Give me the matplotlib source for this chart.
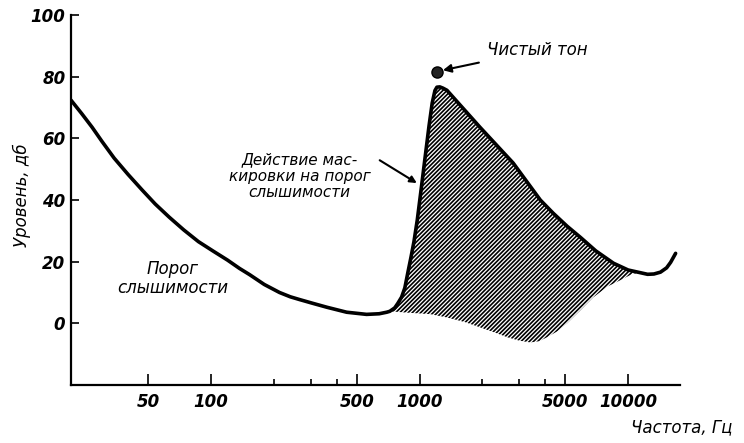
import numpy as np
import matplotlib
matplotlib.use("Agg")
import matplotlib.pyplot as plt

# порог слышимости в тишине
freq_quiet = [21.3, 24, 26.9, 30, 34.3, 40, 46.8, 54, 63.1, 74, 87, 102, 120, 137, 153,
              180, 213, 240, 266, 307, 360, 447, 557, 640, 696]
db_quiet = [72.4, 68.0, 63.6, 59.0, 53.6, 48.3, 43.2, 38.7, 34.4, 30.3, 26.5, 23.5, 20.5,
            17.8, 15.8, 12.6, 10.0, 8.6, 7.7, 6.5, 5.2, 3.6, 2.9, 3.1, 3.6]

# порог при маскировке (верхняя граница)
freq_masked = [720, 760, 787, 820, 850, 879, 910, 940, 975, 1020, 1062, 1110, 1150, 1185,
               1211, 1250, 1294, 1353, 1949, 2811, 3793, 4376, 5100, 5905, 7000, 8510,
               10000, 12400, 13300, 14300, 15300, 16000, 16900]
db_masked = [3.9, 5.0, 6.5, 8.5, 11.5, 16.5, 21.5, 26.5, 33.5, 44.0, 53.6, 64.0, 71.5,
             75.5, 76.6, 76.7, 76.3, 75.6, 63.6, 52.0, 40.0, 35.7, 31.5, 27.9, 23.5, 19.5,
             17.3, 15.9, 16.0, 16.6, 18.0, 19.8, 22.7]

# продолжение порога без маскировки (нижняя граница штриховки)
freq_lower = [720, 898, 1122, 1353, 1650, 1949, 2300, 2630, 3000, 3390, 3750, 4090, 4600,
              5100, 5900, 6800, 8000, 9190, 10600, 12400]
db_lower = [3.9, 3.4, 3.0, 1.9, 0.4, -1.3, -3.0, -4.5, -5.6, -6.2, -5.8, -4.5, -2.5,
            0.0, 4.2, 8.4, 12.0, 14.0, 16.2, 15.9]

tone_freq, tone_db = 1211, 81.5

xticks = [50, 100, 500, 1000, 5000, 10000]
xminor = [200, 300, 400, 2000, 3000, 4000]
yticks = [0, 20, 40, 60, 80, 100]

plt.rcParams['font.family'] = ['DejaVu Sans']
plt.rcParams['hatch.linewidth'] = 1.2

fig = plt.figure(figsize=(7.44, 4.43), dpi=100)
ax = fig.add_axes([0.0954, 0.131, 0.819, 0.835])

fm = np.array(freq_masked)
dm = np.array(db_masked)
keep = fm <= freq_lower[-1]
poly_x = np.concatenate([fm[keep], freq_lower[::-1]])
poly_y = np.concatenate([dm[keep], db_lower[::-1]])
ax.fill(poly_x, poly_y, facecolor='white', edgecolor='black', linewidth=0, hatch='////////')

ax.plot(freq_quiet + freq_masked, db_quiet + db_masked, color='black', lw=2.6,
        solid_joinstyle='round', solid_capstyle='round')
ax.plot([tone_freq], [tone_db], 'o', color='#222222', markersize=8, mec='black')

ax.set_xscale('log')
ax.set_xlim(21.3, 17800)
ax.set_ylim(-20, 100)
ax.spines['top'].set_visible(False)
ax.spines['right'].set_visible(False)
ax.spines['left'].set_linewidth(1.6)
ax.spines['bottom'].set_linewidth(1.6)

ax.set_xticks(xticks)
ax.set_xticklabels([str(t) for t in xticks])
ax.set_xticks(xminor, minor=True)
ax.xaxis.set_minor_formatter(matplotlib.ticker.NullFormatter())
ax.set_yticks(yticks)
ax.set_yticklabels([str(t) for t in yticks])
ax.tick_params(axis='x', which='major', direction='in', length=8, width=1.2, pad=6)
ax.tick_params(axis='x', which='minor', direction='in', length=4, width=1.2)
ax.tick_params(axis='y', direction='in', length=6, width=1.2, pad=4)
for lab in ax.get_xticklabels() + ax.get_yticklabels():
    lab.set_fontstyle('italic')
    lab.set_fontweight('bold')
    lab.set_fontsize(12)

ax.annotate('Чистый тон', xy=(1294, 82.1), xytext=(2108, 88.6), fontsize=12,
            style='italic', ha='left', va='center',
            arrowprops=dict(arrowstyle='-|>', color='black', lw=1.5, shrinkA=4, shrinkB=0))
ax.text(266, 47.7, 'Действие мас-\nкировки на порог\nслышимости', fontsize=11,
        style='italic', ha='center', va='center', linespacing=1.1)
ax.annotate('', xy=(970, 45.5), xytext=(644, 52.9),
            arrowprops=dict(arrowstyle='-|>', color='black', lw=1.5, shrinkA=0, shrinkB=0))
ax.text(65.2, 14.6, 'Порог\nслышимости', fontsize=12, style='italic',
        ha='center', va='center', linespacing=1.1)

fig.text(22 / 744, 1 - 195 / 443, 'Уровень, дб', rotation=90, fontsize=12,
         style='italic', ha='center', va='center')
fig.text(682 / 744, 1 - 427 / 443, 'Частота, Гц', fontsize=12, style='italic',
         ha='center', va='center')

fig.savefig('out.png', dpi=100)
